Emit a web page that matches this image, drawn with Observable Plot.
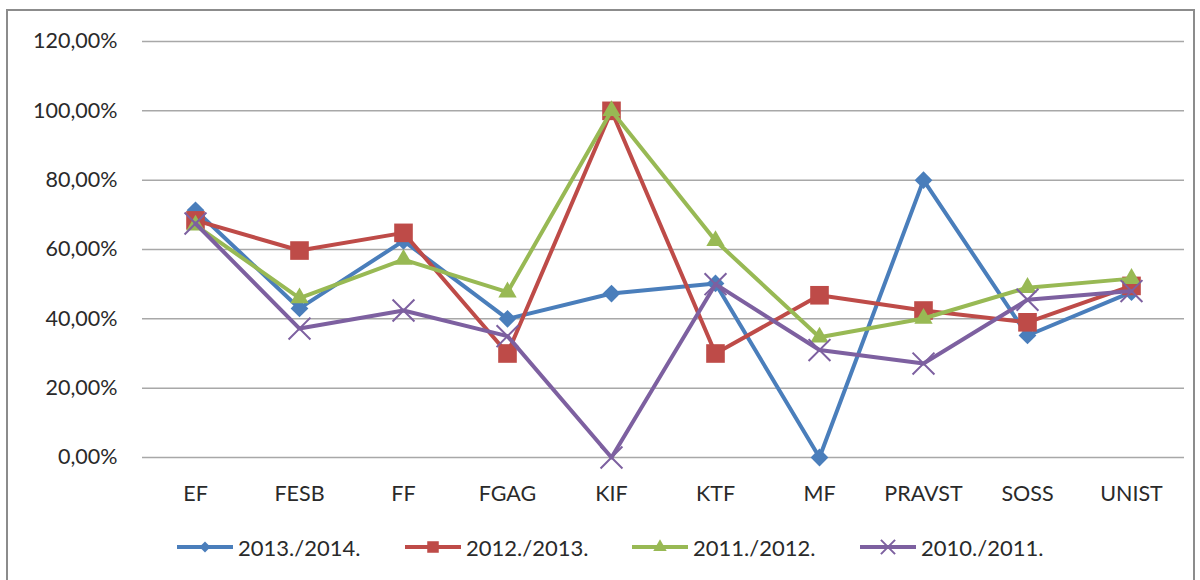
<!DOCTYPE html>
<html>
<head>
<meta charset="utf-8">
<script src="https://cdn.jsdelivr.net/npm/d3@7"></script>
<script src="https://cdn.jsdelivr.net/npm/@observablehq/plot@0.6"></script>
<style>
  html, body { margin: 0; padding: 0; background: #fff; }
  #frame { position: absolute; left: 0; top: 0; width: 1200px; height: 580px; overflow: hidden; }
  #border { position: absolute; left: 6px; top: 9px; width: 1189px; height: 600px; border: 2px solid #8c8c8c; box-sizing: border-box; }
  #chart { position: absolute; left: 0; top: 0; }
  .leg { position: absolute; top: 533px; display: flex; align-items: center; font-family: Lato, sans-serif; font-size: 22px; color: #2a2a2a; }
  .leg span { margin-left: 5px; }
</style>
</head>
<body>
<div id="frame">
  <div id="border"></div>
  <div id="chart"></div>
  <div id="legend"></div>
</div>
<script>
const categories = ["EF","FESB","FF","FGAG","KIF","KTF","MF","PRAVST","SOSS","UNIST"];
const seriesNames = ["2013./2014.","2012./2013.","2011./2012.","2010./2011."];
const v2013 = [0.713, 0.430, 0.625, 0.400, 0.473, 0.502, 0.000, 0.800, 0.352, 0.477];
const v2012 = [0.684, 0.597, 0.648, 0.300, 1.000, 0.300, 0.468, 0.424, 0.390, 0.495];
const v2011 = [0.670, 0.460, 0.571, 0.477, 1.000, 0.625, 0.347, 0.401, 0.490, 0.516];
const v2010 = [0.675, 0.372, 0.424, 0.350, 0.000, 0.500, 0.310, 0.271, 0.455, 0.480];
const yTicks = [0, 0.2, 0.4, 0.6, 0.8, 1.0, 1.2];

const colors = ["#4a7ebb", "#be4b48", "#98b954", "#7d60a0"];
const symbols = ["diamond2", "square", "triangle", "times"];
const radii = [8, 10.5, 6.8, 10];
const legendRadii = [5, 6.5, 5, 6.5];
const allValues = [v2013, v2012, v2011, v2010];

const rows = [];
allValues.forEach((vals, si) => {
  vals.forEach((v, i) => rows.push({series: seriesNames[si], cat: categories[i], value: v}));
});

const fmt = d => (d * 100).toFixed(2).replace(".", ",") + "%";

const marks = [
  Plot.ruleY(yTicks, {stroke: "#a8a8a8", strokeWidth: 1.5})
];
seriesNames.forEach((s, si) => {
  const data = rows.filter(r => r.series === s);
  marks.push(Plot.line(data, {x: "cat", y: "value", stroke: colors[si], strokeWidth: 4}));
  if (symbols[si] === "times") {
    marks.push(Plot.dot(data, {x: "cat", y: "value", symbol: symbols[si], r: radii[si], stroke: colors[si], strokeWidth: 2}));
  } else {
    marks.push(Plot.dot(data, {x: "cat", y: "value", symbol: symbols[si], r: radii[si], fill: colors[si], stroke: "none"}));
  }
});
marks.push(Plot.axisY(yTicks, {tickSize: 0, tickPadding: 25, tickFormat: fmt, label: null}));
marks.push(Plot.axisX({tickSize: 0, tickPadding: 28, label: null}));

const chart = Plot.plot({
  width: 1200,
  height: 510,
  marginLeft: 142,
  marginRight: 16,
  marginTop: 41,
  marginBottom: 53,
  x: {type: "point", domain: categories, padding: 0.5},
  y: {domain: [0, 1.2]},
  style: {fontFamily: "Lato, sans-serif", fontSize: "21.5px", color: "#2a2a2a", background: "transparent"},
  marks
});
document.getElementById("chart").appendChild(chart);

// legend
const legLefts = [177, 405, 632, 860];
const symMap = {diamond2: d3.symbolDiamond2, square: d3.symbolSquare, triangle: d3.symbolTriangle, times: d3.symbolTimes};
const legend = document.getElementById("legend");
seriesNames.forEach((s, si) => {
  const item = document.createElement("div");
  item.className = "leg";
  item.style.left = legLefts[si] + "px";
  const r = legendRadii[si];
  const path = d3.symbol(symMap[symbols[si]], Math.PI * r * r)();
  const filled = symbols[si] !== "times";
  item.innerHTML =
    `<svg width="56" height="28" viewBox="0 0 56 28">
       <line x1="0" y1="14" x2="56" y2="14" stroke="${colors[si]}" stroke-width="4"/>
       <path d="${path}" transform="translate(28,14)" fill="${filled ? colors[si] : "none"}" stroke="${filled ? "none" : colors[si]}" stroke-width="2"/>
     </svg><span>${s}</span>`;
  legend.appendChild(item);
});
</script>
</body>
</html>
